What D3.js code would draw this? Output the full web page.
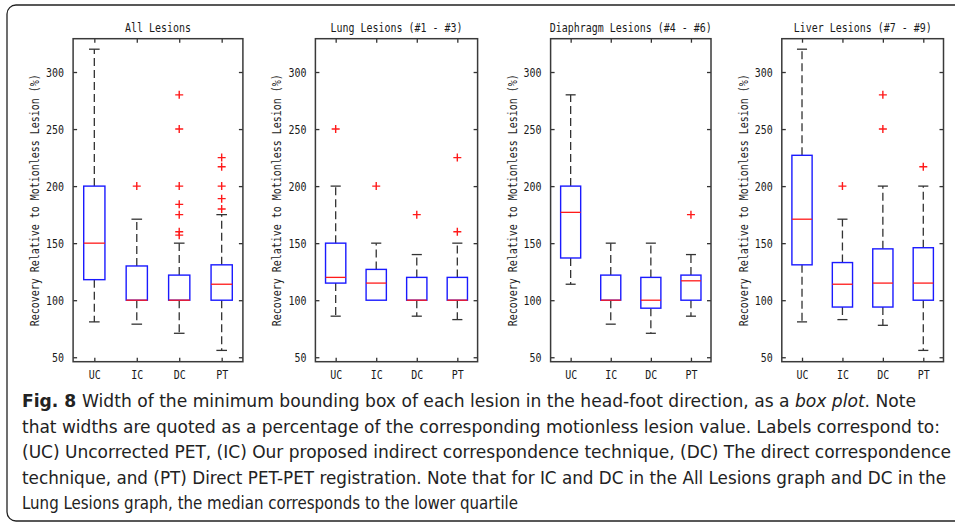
<!DOCTYPE html>
<html lang="en">
<head>
<meta charset="utf-8">
<title>Box plots: bounding box width</title>
<script src="https://d3js.org/d3.v7.min.js"></script>
<style>
  body { margin: 0; background: #fff; }
  .mono { font-family: "DejaVu Sans Mono", "Liberation Mono", monospace; fill: #1a1a1a; }
  .cap { font-family: "Liberation Sans Narrow", "DejaVu Sans Condensed", "Open Sans", sans-serif; fill: #222; }
</style>
</head>
<body>
<script>
// groups on the x axis and one title per panel
var groups = ["UC", "IC", "DC", "PT"];
var titles = ["All Lesions", "Lung Lesions (#1 - #3)", "Diaphragm Lesions (#4 - #6)", "Liver Lesions (#7 - #9)"];
var yTicks = [50, 100, 150, 200, 250, 300];

// one row per panel, one value per group
var whiskerLow  = [[81, 79, 71, 56], [86, 100, 86, 83], [114, 79, 71, 86], [81, 83, 78, 56]];
var q1          = [[118, 100, 100, 100], [115, 100, 100, 100], [137, 100, 93, 100], [131, 94, 94, 100]];
var median      = [[150, 100, 100, 114], [120, 115, 100, 100], [177, 100, 100, 117], [171, 114, 115, 115]];
var q3          = [[200, 130, 122, 131], [150, 127, 120, 120], [200, 122, 120, 122], [227, 133, 145, 146]];
var whiskerHigh = [[320, 171, 150, 175], [200, 150, 140, 150], [280, 150, 150, 140], [320, 171, 200, 200]];
var outliers = [
  [[], [200], [280, 250, 200, 184, 175, 160, 157], [225, 217, 200, 189, 180]],
  [[250], [200], [175], [225, 160]],
  [[], [], [], [175]],
  [[], [200], [280, 250], [217]]
];

var width = 955, height = 524;
var plotTop = 38.7, plotBottom = 361.7;
var panelX = [[73.1, 242.9], [315.4, 477.6], [550.6, 711], [781.8, 943.5]];

var svg = d3.select("body").append("svg")
    .attr("width", width)
    .attr("height", height);

// rounded figure frame
svg.append("rect")
    .attr("x", 7).attr("y", 5)
    .attr("width", 970).attr("height", 516)
    .attr("rx", 9)
    .attr("fill", "none")
    .attr("stroke", "#222")
    .attr("stroke-width", 1.3);

var y = d3.scaleLinear().domain([46.1, 329.2]).range([plotBottom, plotTop]);

function squeeze(sel) {
  sel.attr("textLength", function() { return this.textContent.length * 6; })
     .attr("lengthAdjust", "spacingAndGlyphs");
}

panelX.forEach(function(px, p) {
  var x = d3.scaleLinear().domain([0.5, 4.5]).range(px);
  var g = svg.append("g");
  var unit = x(1) - x(0);

  // axes with inward ticks, on all four sides
  var ax = [
    { a: d3.axisBottom(x).tickValues([1, 2, 3, 4]).tickFormat(function(d) { return groups[d - 1]; }), t: "translate(0," + plotBottom + ")" },
    { a: d3.axisTop(x).tickValues([1, 2, 3, 4]).tickFormat(""), t: "translate(0," + plotTop + ")" },
    { a: d3.axisLeft(y).tickValues(yTicks), t: "translate(" + px[0] + ",0)" },
    { a: d3.axisRight(y).tickValues(yTicks).tickFormat(""), t: "translate(" + px[1] + ",0)" }
  ];
  ax.forEach(function(o, i) {
    var s = g.append("g").attr("transform", o.t)
        .call(o.a.tickSizeInner(-4).tickSizeOuter(0).tickPadding(i === 0 ? 8 : 9));
    s.select(".domain").remove();
    s.selectAll("line").attr("stroke", "#333").attr("stroke-width", 1.3);
    s.selectAll("text").attr("class", "mono").attr("font-size", 13).call(squeeze);
  });

  g.append("rect")
      .attr("x", px[0]).attr("y", plotTop)
      .attr("width", px[1] - px[0]).attr("height", plotBottom - plotTop)
      .attr("fill", "none").attr("stroke", "#3a3a3a").attr("stroke-width", 1.5);

  g.append("text").attr("class", "mono")
      .attr("x", (px[0] + px[1]) / 2).attr("y", 32)
      .attr("text-anchor", "middle").attr("font-size", 12.5)
      .text(titles[p]).call(squeeze);

  g.append("text").attr("class", "mono")
      .attr("transform", "translate(" + (px[0] - 38) + "," + ((plotTop + plotBottom) / 2) + ") rotate(-90)")
      .attr("text-anchor", "middle").attr("dominant-baseline", "central")
      .attr("font-size", 12)
      .text("Recovery Relative to Motionless Lesion (%)").call(squeeze);

  groups.forEach(function(name, i) {
    var cx = x(i + 1), hw = unit * 0.25, cw = unit * 0.125;
    var b = g.append("g");

    // dashed whiskers and caps
    [[q3[p][i], whiskerHigh[p][i]], [q1[p][i], whiskerLow[p][i]]].forEach(function(w) {
      if (w[0] === w[1]) return;
      b.append("line")
          .attr("x1", cx).attr("x2", cx)
          .attr("y1", y(w[0])).attr("y2", y(w[1]))
          .attr("stroke", "#333").attr("stroke-width", 1.3)
          .attr("stroke-dasharray", "8,4");
      b.append("line")
          .attr("x1", cx - cw).attr("x2", cx + cw)
          .attr("y1", y(w[1])).attr("y2", y(w[1]))
          .attr("stroke", "#333").attr("stroke-width", 1.3);
    });

    b.append("rect")
        .attr("x", cx - hw).attr("width", 2 * hw)
        .attr("y", y(q3[p][i])).attr("height", y(q1[p][i]) - y(q3[p][i]))
        .attr("fill", "none").attr("stroke", "#1a1aff").attr("stroke-width", 1.4);

    b.append("line")
        .attr("x1", cx - hw).attr("x2", cx + hw)
        .attr("y1", y(median[p][i])).attr("y2", y(median[p][i]))
        .attr("stroke", "#ff1a1a").attr("stroke-width", 1.3);

    b.selectAll(".out").data(outliers[p][i]).enter()
      .append("path").attr("class", "out")
        .attr("d", function(v) {
          var yy = y(v);
          return "M" + (cx - 4) + "," + yy + "H" + (cx + 4) + "M" + cx + "," + (yy - 4) + "V" + (yy + 4);
        })
        .attr("stroke", "#ff1a1a").attr("stroke-width", 1.4).attr("fill", "none");
  });
});

// caption
var lines = [
  ["Width of the minimum bounding box of each lesion in the head-foot direction, as a ", "box plot", ". Note"],
  ["that widths are quoted as a percentage of the corresponding motionless lesion value. Labels correspond to:"],
  ["(UC) Uncorrected PET, (IC) Our proposed indirect correspondence technique, (DC) The direct correspondence"],
  ["technique, and (PT) Direct PET-PET registration. Note that for IC and DC in the All Lesions graph and DC in the"],
  ["Lung Lesions graph, the median corresponds to the lower quartile"]
];
var lineEnd = [916, 940, 951, 946, 518];

lines.forEach(function(parts, i) {
  var t = svg.append("text").attr("class", "cap")
      .attr("x", 22).attr("y", 407 + i * 25.5)
      .attr("font-size", 17.5)
      .attr("textLength", lineEnd[i] - 22)
      .attr("lengthAdjust", "spacingAndGlyphs");
  if (i === 0) t.append("tspan").attr("font-weight", "bold").text("Fig. 8  ");
  parts.forEach(function(s, k) {
    var ts = t.append("tspan").text(s);
    if (i === 0 && k === 1) ts.attr("font-style", "italic");
  });
});
</script>
</body>
</html>
